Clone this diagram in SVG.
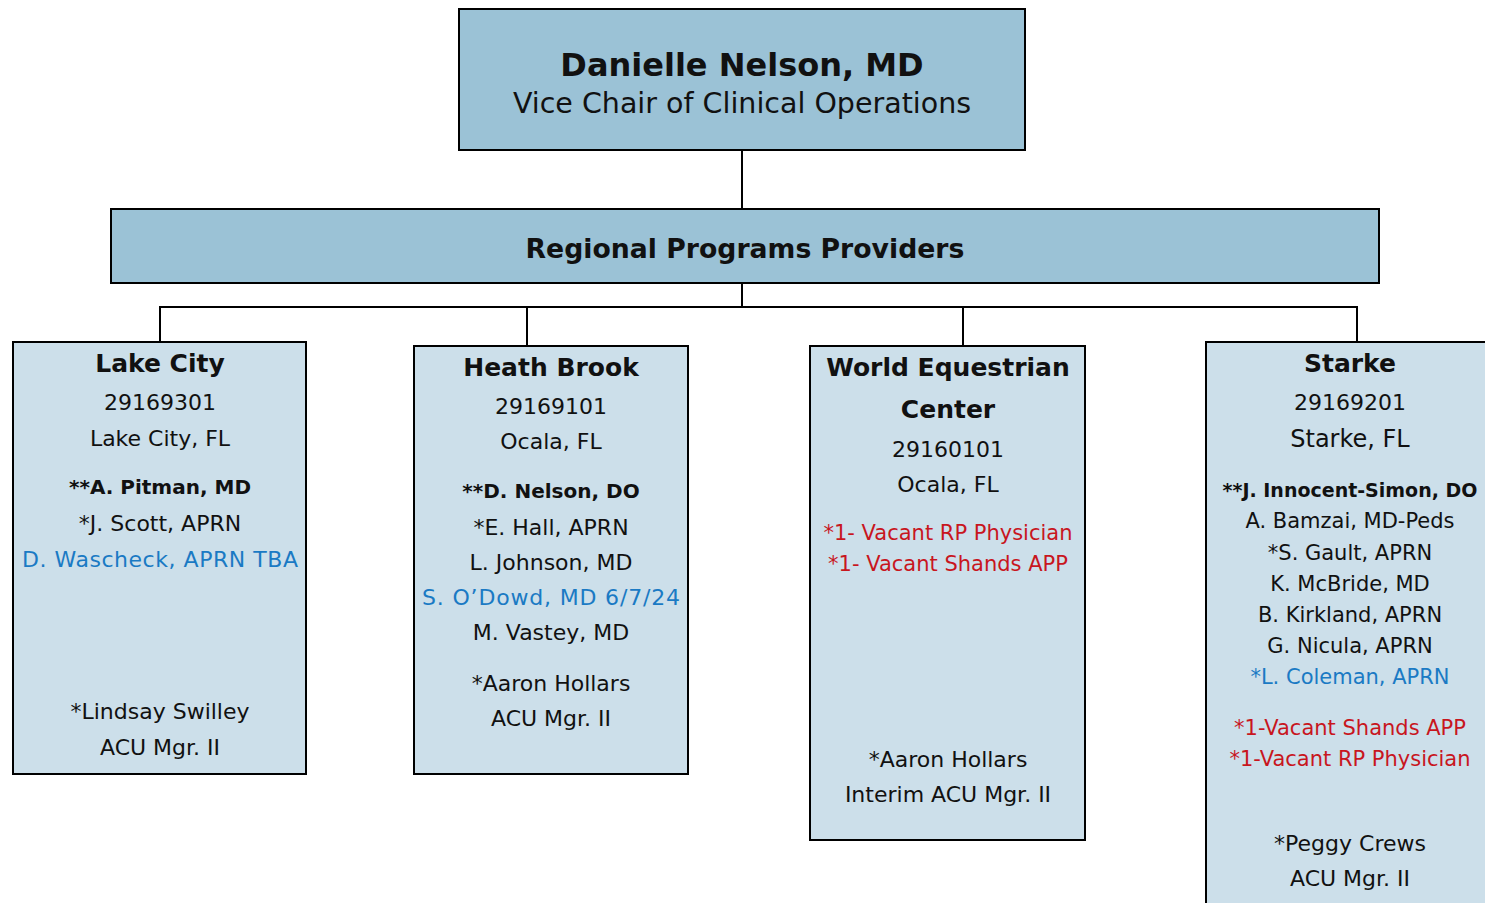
<svg xmlns="http://www.w3.org/2000/svg" width="1485" height="903" viewBox="0 0 1485 903">
<style>
.dark{fill:#9BC2D6;stroke:#000;stroke-width:2}
.light{fill:#CCDFEA;stroke:#000;stroke-width:2}
text{font-family:"DejaVu Sans","Noto Sans",sans-serif;text-anchor:middle;fill:#111}
.t1{font-size:32px;font-weight:bold}
.t2{font-size:28.5px}
.h{font-size:25px;font-weight:bold}
.n{font-size:22px}
.nb{font-size:20px;font-weight:bold}
.blue{fill:#1A7AC4}
.red{fill:#C8161E;font-size:21px}
.c{stroke:#000;stroke-width:2;fill:none}
</style>
<rect width="1485" height="903" fill="#fff"/>
<g id="connectors">
<line class="c" x1="742" y1="150" x2="742" y2="209"/>
<line class="c" x1="742" y1="283" x2="742" y2="307"/>
<polyline class="c" points="160,342 160,307 1357,307 1357,342"/>
<line class="c" x1="527" y1="307" x2="527" y2="346"/>
<line class="c" x1="963" y1="307" x2="963" y2="346"/>
</g>
<g id="vice-chair">
<rect class="dark" x="459" y="9" width="566" height="141"/>
<text class="t1" x="742" y="76">Danielle Nelson, MD</text>
<text class="t2" x="742" y="113">Vice Chair of Clinical Operations</text>
</g>
<g id="regional">
<rect class="dark" x="111" y="209" width="1268" height="74"/>
<text class="t1" x="745" y="258" style="font-size:26.7px">Regional Programs Providers</text>
</g>
<g id="lake-city">
<rect class="light" x="13" y="342" width="293" height="432"/>
<text class="h" x="160" y="372">Lake City</text>
<text class="n" x="160" y="410">29169301</text>
<text class="n" x="160" y="446">Lake City, FL</text>
<text class="nb" x="160" y="494">**A. Pitman, MD</text>
<text class="n" x="160" y="531">*J. Scott, APRN</text>
<text class="n blue" x="160" y="567" textLength="276">D. Wascheck, APRN TBA</text>
<text class="n" x="160" y="719">*Lindsay Swilley</text>
<text class="n" x="160" y="755">ACU Mgr. II</text>
</g>
<g id="heath-brook">
<rect class="light" x="414" y="346" width="274" height="428"/>
<text class="h" x="551" y="376">Heath Brook</text>
<text class="n" x="551" y="414">29169101</text>
<text class="n" x="551" y="449">Ocala, FL</text>
<text class="nb" x="551" y="498">**D. Nelson, DO</text>
<text class="n" x="551" y="535">*E. Hall, APRN</text>
<text class="n" x="551" y="570">L. Johnson, MD</text>
<text class="n blue" x="551" y="605" textLength="258">S. O’Dowd, MD 6/7/24</text>
<text class="n" x="551" y="640">M. Vastey, MD</text>
<text class="n" x="551" y="691">*Aaron Hollars</text>
<text class="n" x="551" y="726">ACU Mgr. II</text>
</g>
<g id="world-equestrian">
<rect class="light" x="810" y="346" width="275" height="494"/>
<text class="h" x="948" y="376">World Equestrian</text>
<text class="h" x="948" y="418">Center</text>
<text class="n" x="948" y="457">29160101</text>
<text class="n" x="948" y="492">Ocala, FL</text>
<text class="red" x="948" y="540">*1- Vacant RP Physician</text>
<text class="red" x="948" y="571">*1- Vacant Shands APP</text>
<text class="n" x="948" y="767">*Aaron Hollars</text>
<text class="n" x="948" y="802">Interim ACU Mgr. II</text>
</g>
<g id="starke">
<rect class="light" x="1206" y="342" width="290" height="570"/>
<text class="h" x="1350" y="372">Starke</text>
<text class="n" x="1350" y="410">29169201</text>
<text class="n" x="1350" y="447" style="font-size:24px">Starke, FL</text>
<text class="nb" x="1350" y="497" style="font-size:19px">**J. Innocent-Simon, DO</text>
<text class="n" x="1350" y="528" style="font-size:21px">A. Bamzai, MD-Peds</text>
<text class="n" x="1350" y="560" style="font-size:21px">*S. Gault, APRN</text>
<text class="n" x="1350" y="591" style="font-size:21px">K. McBride, MD</text>
<text class="n" x="1350" y="622" style="font-size:21px">B. Kirkland, APRN</text>
<text class="n" x="1350" y="653" style="font-size:21px">G. Nicula, APRN</text>
<text class="n blue" x="1350" y="684" style="font-size:21px">*L. Coleman, APRN</text>
<text class="red" x="1350" y="735">*1-Vacant Shands APP</text>
<text class="red" x="1350" y="766">*1-Vacant RP Physician</text>
<text class="n" x="1350" y="851">*Peggy Crews</text>
<text class="n" x="1350" y="886">ACU Mgr. II</text>
</g>
</svg>
